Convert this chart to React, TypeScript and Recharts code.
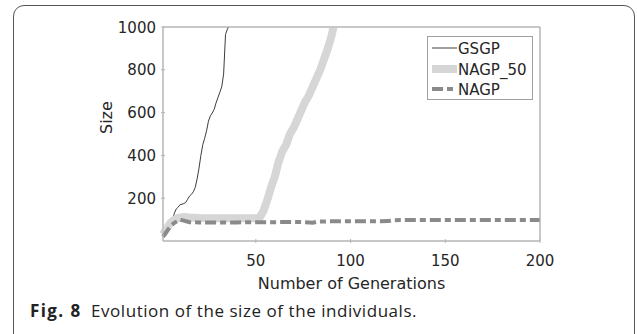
import React from "react";
import { LineChart, Line, XAxis, YAxis, ReferenceArea } from "recharts";

// generation / size pairs
const gsgpGen = [1, 3, 5, 6, 7, 8, 9, 10, 11, 12, 13, 14, 15, 16, 17, 18, 19, 20, 21, 22, 23, 24, 25, 26, 27, 28, 29, 30, 31, 32, 33, 34, 35, 36];
const gsgpSize = [25, 50, 80, 100, 130, 150, 158, 170, 172, 175, 180, 195, 210, 218, 230, 250, 290, 340, 400, 450, 480, 515, 560, 585, 598, 615, 645, 670, 695, 720, 780, 965, 990, 1010];

const nagp50Gen = [1, 3, 5, 7, 9, 12, 15, 20, 30, 40, 50, 52, 54, 56, 58, 60, 62, 64, 66, 68, 70, 72, 74, 76, 78, 80, 82, 84, 86, 88, 90, 91];
const nagp50Size = [30, 60, 85, 100, 108, 112, 110, 108, 106, 106, 106, 110, 140, 190, 250, 300, 370, 420, 450, 500, 530, 570, 610, 650, 680, 720, 760, 800, 850, 900, 960, 1000];

const nagpGen = [1, 3, 5, 7, 9, 10, 12, 15, 20, 30, 40, 50, 60, 70, 75, 80, 83, 90, 100, 110, 120, 122, 130, 150, 175, 200];
const nagpSize = [20, 45, 70, 85, 95, 100, 95, 88, 87, 87, 87, 88, 88, 89, 88, 85, 91, 92, 92, 92, 93, 97, 98, 98, 98, 98];

const xTicks = [50, 100, 150, 200];
const yTicks = [200, 400, 600, 800, 1000];

const seriesNames = ["GSGP", "NAGP_50", "NAGP"];

const toRows = (gen: number[], size: number[]) =>
  gen.map((g, i) => ({ gen: g, size: size[i] }));

const FONT = "'DejaVu Sans', sans-serif";
const TEXT = "#262626";
const FRAME = "#b5b5b5";

const BottomTick = (props: any) => {
  const { x, y, payload } = props;
  return (
    <g>
      <line x1={x} x2={x} y1={y} y2={y - 4} stroke={FRAME} />
      <text x={x} y={y + 23} textAnchor="middle" fontSize={15} fontFamily={FONT} fill={TEXT}>
        {payload.value}
      </text>
    </g>
  );
};

const LeftTick = (props: any) => {
  const { x, y, payload } = props;
  return (
    <g>
      <line x1={x} x2={x + 4} y1={y} y2={y} stroke={FRAME} />
      <text x={x - 5} y={y + 5.5} textAnchor="end" fontSize={15} fontFamily={FONT} fill={TEXT}>
        {payload.value}
      </text>
    </g>
  );
};

const TopTick = (props: any) => {
  const { x, y } = props;
  return <line x1={x} x2={x} y1={y} y2={y + 4} stroke={FRAME} />;
};

const RightTick = (props: any) => {
  const { x, y } = props;
  return <line x1={x} x2={x - 4} y1={y} y2={y} stroke={FRAME} />;
};

const LegendBox = () => (
  <svg width={106} height={64} style={{ display: "block" }}>
    <rect x={0.5} y={0.5} width={105} height={63} fill="#fff" stroke="#a0a0a0" />
    <line x1={5} x2={30} y1={12} y2={12} stroke="#404040" strokeWidth={1} />
    <line x1={5} x2={30} y1={33} y2={33} stroke="#d6d6d6" strokeWidth={8} />
    <line x1={5} x2={30} y1={53} y2={53} stroke="#8a8a8a" strokeWidth={4} strokeDasharray="11 4 6 4" />
    {seriesNames.map((n, i) => (
      <text key={n} x={31} y={[12, 33, 53][i] + 5.5} fontSize={15} fontFamily={FONT} fill={TEXT}>
        {n}
      </text>
    ))}
  </svg>
);

export default function App() {
  return (
    <div style={{ position: "fixed", left: 0, top: 0, width: 637, height: 334, overflow: "hidden", background: "#fff" }}>
      <div
        style={{
          position: "absolute",
          left: 13,
          top: 5,
          width: 622,
          height: 345,
          border: "1.5px solid #555",
          borderRadius: 11,
          boxSizing: "border-box",
        }}
      />
      <div style={{ position: "absolute", left: 0, top: 0 }}>
        <LineChart width={637} height={334} margin={{ top: 26, right: 96, bottom: 41, left: 103 }}>
          <XAxis
            dataKey="gen"
            type="number"
            domain={[1, 200]}
            ticks={xTicks}
            axisLine={{ stroke: FRAME }}
            tickLine={false}
            tickSize={0}
            tick={<BottomTick />}
            height={52}
            allowDuplicatedCategory={false}
            label={{ value: "Number of Generations", position: "insideBottom", offset: 4, fontSize: 16, fontFamily: FONT, fill: TEXT }}
          />
          <XAxis
            xAxisId="top"
            orientation="top"
            dataKey="gen"
            type="number"
            domain={[1, 200]}
            ticks={xTicks}
            axisLine={{ stroke: FRAME }}
            tickLine={false}
            tickSize={0}
            tick={<TopTick />}
            height={1}
          />
          <YAxis
            dataKey="size"
            type="number"
            domain={[0, 1000]}
            ticks={yTicks}
            allowDataOverflow
            axisLine={{ stroke: FRAME }}
            tickLine={false}
            tickSize={0}
            tick={<LeftTick />}
            width={60}
            label={{ value: "Size", angle: -90, position: "insideLeft", offset: 3, fontSize: 16, fontFamily: FONT, fill: TEXT }}
          />
          <YAxis
            yAxisId="right"
            orientation="right"
            type="number"
            domain={[0, 1000]}
            ticks={yTicks}
            axisLine={{ stroke: FRAME }}
            tickLine={false}
            tickSize={0}
            tick={<RightTick />}
            width={1}
          />
          <ReferenceArea x1={1} x2={200} y1={0} y2={1000} fill="none" stroke={FRAME} strokeWidth={1} />
          <Line
            data={toRows(gsgpGen, gsgpSize)}
            dataKey="size"
            name="GSGP"
            type="linear"
            stroke="#3c3c3c"
            strokeWidth={1}
            dot={false}
            isAnimationActive={false}
          />
          <Line
            data={toRows(nagp50Gen, nagp50Size)}
            dataKey="size"
            name="NAGP_50"
            type="linear"
            stroke="#d6d6d6"
            strokeWidth={8}
            dot={false}
            isAnimationActive={false}
          />
          <Line
            data={toRows(nagpGen, nagpSize)}
            dataKey="size"
            name="NAGP"
            type="linear"
            stroke="#8a8a8a"
            strokeWidth={4}
            strokeDasharray="11 4 6 4"
            dot={false}
            isAnimationActive={false}
          />
        </LineChart>
      </div>
      <div style={{ position: "absolute", left: 427, top: 36 }}>
        <LegendBox />
      </div>
      <div
        style={{
          position: "absolute",
          left: 30,
          top: 299,
          fontFamily: "'Open Sans', sans-serif",
          fontSize: 17,
          fontWeight: 700,
          letterSpacing: 1.4,
          color: "#222",
          whiteSpace: "nowrap",
        }}
      >
        Fig. 8
      </div>
      <div
        style={{
          position: "absolute",
          left: 91,
          top: 299,
          fontFamily: "'Open Sans', sans-serif",
          fontSize: 17,
          letterSpacing: 0.55,
          color: "#222",
          whiteSpace: "nowrap",
        }}
      >
        Evolution of the size of the individuals.
      </div>
    </div>
  );
}
